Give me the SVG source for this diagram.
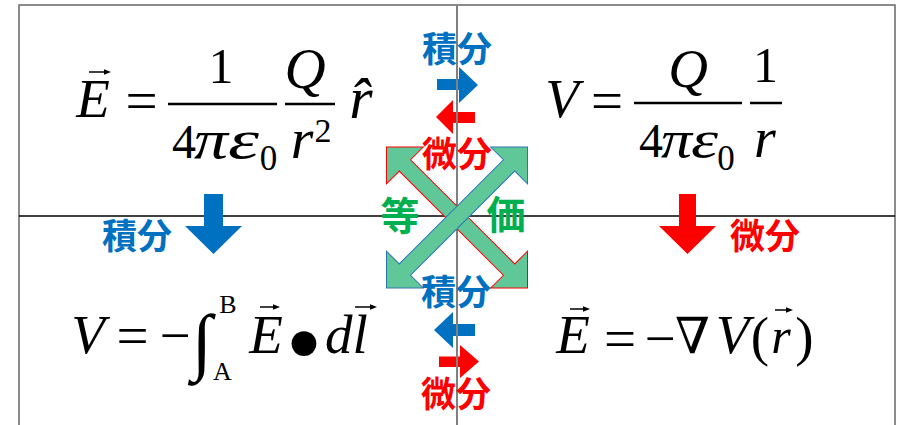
<svg xmlns="http://www.w3.org/2000/svg" width="897" height="425" viewBox="0 0 897 425">
<style>
.m{font-family:"Liberation Serif","DejaVu Serif",serif;fill:#000;text-anchor:middle}
.s{text-anchor:start}
.i{font-style:italic}
.j{font-family:"Noto Sans CJK JP","Noto Sans CJK SC",sans-serif;font-weight:bold;text-anchor:middle;font-size:34px}
.b{fill:#0070C0}
.r{fill:#FF0000}
.g{fill:#00B050}
.bar{stroke:#000;stroke-width:2.5}
.vec{stroke:#000;stroke-width:1.5;fill:none}
.xa{fill:#60C898;stroke-width:1}
</style>
<defs>
<path id="xarrow" d="M-99.7,0 L-73.7,-26 L-73.7,-8 L73.7,-8 L73.7,-26 L99.7,0 L73.7,26 L73.7,8 L-73.7,8 L-73.7,26 Z"/>
<path id="vhead" d="M0,-2.8 L7,0 L0,2.8 Z"/>
</defs>
<rect x="19" y="5" width="876" height="430" fill="#fff" stroke="#666" stroke-width="1.5"/>
<g id="connectors">
<line x1="19" y1="216" x2="895" y2="216" stroke="#000" stroke-width="1.3"/>
<polygon class="b" points="204,194 223,194 223,226 242,226 213.5,254 185,226 204,226"/>
<polygon class="r" points="679,194 696,194 696,226 716,226 687.5,254 659,226 679,226"/>
<polygon class="b" points="437,79 459,79 459,67 478,85 459,103 459,90 437,90"/>
<polygon class="r" points="475,112 453,112 453,100 436,117 453,134 453,123 475,123"/>
<polygon class="b" points="475,324 453,324 453,312 434,330 453,348 453,336 475,336"/>
<polygon class="r" points="439,356.5 460,356.5 460,345 479,361.5 460,378 460,367 439,367"/>
<line x1="457" y1="5" x2="457" y2="425" stroke="#808080" stroke-width="2"/>
<use href="#xarrow" class="xa" stroke="#FF0000" transform="translate(457,217.5) rotate(45)"/>
<use href="#xarrow" class="xa" stroke="#2E75B6" transform="translate(457,217.5) rotate(-45)"/>
</g>
<g id="labels">
<text class="j b" x="457" y="62" style="font-size:35px">積分</text>
<text class="j r" x="457" y="167" style="font-size:35px">微分</text>
<text class="j b" x="456" y="305" style="font-size:35px">積分</text>
<text class="j r" x="456" y="407" style="font-size:35px">微分</text>
<text class="j b" x="137" y="249" style="font-size:35px">積分</text>
<text class="j r" x="765" y="249" style="font-size:35px">微分</text>
<text class="j g" x="400" y="230" style="font-size:39px">等</text>
<text class="j g" x="506" y="229" style="font-size:39px">価</text>
</g>
<g id="eq-E-coulomb">
<text class="m i" x="93" y="117" font-size="55">E</text>
<line class="vec" x1="89" y1="72" x2="105" y2="72"/><use href="#vhead" transform="translate(104,72)"/>
<text class="m" x="141.5" y="120" font-size="57">=</text>
<line class="bar" x1="168" y1="104" x2="277" y2="104"/>
<text class="m" x="221" y="83" font-size="50">1</text>
<text class="m" x="184" y="158" font-size="48">4</text>
<text class="m i s" x="194" y="158" font-size="54" textLength="34" lengthAdjust="spacingAndGlyphs">π</text>
<text class="m i s" x="228" y="158" font-size="54" textLength="31" lengthAdjust="spacingAndGlyphs">ε</text>
<text class="m" x="268.5" y="170" font-size="35">0</text>
<line class="bar" x1="285" y1="104" x2="335" y2="104"/>
<text class="m i" x="305" y="88" font-size="57">Q</text>
<text class="m i" x="302" y="158" font-size="58">r</text>
<text class="m" x="323" y="142" font-size="34">2</text>
<text class="m i" x="361" y="118" font-size="60">r̂</text>
</g>
<g id="eq-V-point">
<text class="m i" x="562" y="117" font-size="55">V</text>
<text class="m" x="607" y="120" font-size="57">=</text>
<line class="bar" x1="634" y1="103" x2="742" y2="103"/>
<text class="m i" x="688" y="87" font-size="55">Q</text>
<text class="m" x="651" y="157" font-size="48">4</text>
<text class="m i s" x="661" y="157" font-size="52" textLength="31" lengthAdjust="spacingAndGlyphs">π</text>
<text class="m i s" x="691" y="157" font-size="52" textLength="27" lengthAdjust="spacingAndGlyphs">ε</text>
<text class="m" x="726" y="170" font-size="35">0</text>
<line class="bar" x1="750" y1="103" x2="782" y2="103"/>
<text class="m" x="765.5" y="82" font-size="50">1</text>
<text class="m i" x="765" y="157" font-size="56">r</text>
</g>
<g id="eq-V-integral">
<text class="m i" x="88" y="353" font-size="55">V</text>
<text class="m" x="132.5" y="355" font-size="57">=</text>
<text class="m" x="175" y="354" font-size="55">−</text>
<text class="m" x="202" y="366" font-size="74">∫</text>
<text class="m" x="228" y="313" font-size="26">B</text>
<text class="m" x="222.5" y="380" font-size="26">A</text>
<text class="m i" x="266" y="353" font-size="55">E</text>
<line class="vec" x1="260" y1="307" x2="274" y2="307"/><use href="#vhead" transform="translate(273,307)"/>
<text class="m" x="304" y="378" font-size="104">•</text>
<text class="m i s" x="325" y="353" font-size="55">dl</text>
<line class="vec" x1="355" y1="307" x2="371" y2="307"/><use href="#vhead" transform="translate(370,307)"/>
</g>
<g id="eq-E-gradient">
<text class="m i" x="573" y="353" font-size="55">E</text>
<line class="vec" x1="570" y1="309" x2="584" y2="309"/><use href="#vhead" transform="translate(583,309)"/>
<text class="m" x="620" y="358" font-size="57">=</text>
<text class="m" x="660" y="357" font-size="55">−</text>
<text class="m" x="692.5" y="353" font-size="50">∇</text>
<text class="m i" x="732.5" y="353" font-size="55">V</text>
<text class="m" x="760" y="355" font-size="55">(</text>
<text class="m i" x="781" y="353" font-size="50">r</text>
<line class="vec" x1="775" y1="310" x2="787" y2="310"/><use href="#vhead" transform="translate(786,310)"/>
<text class="m" x="804.5" y="355" font-size="55">)</text>
</g>
</svg>
